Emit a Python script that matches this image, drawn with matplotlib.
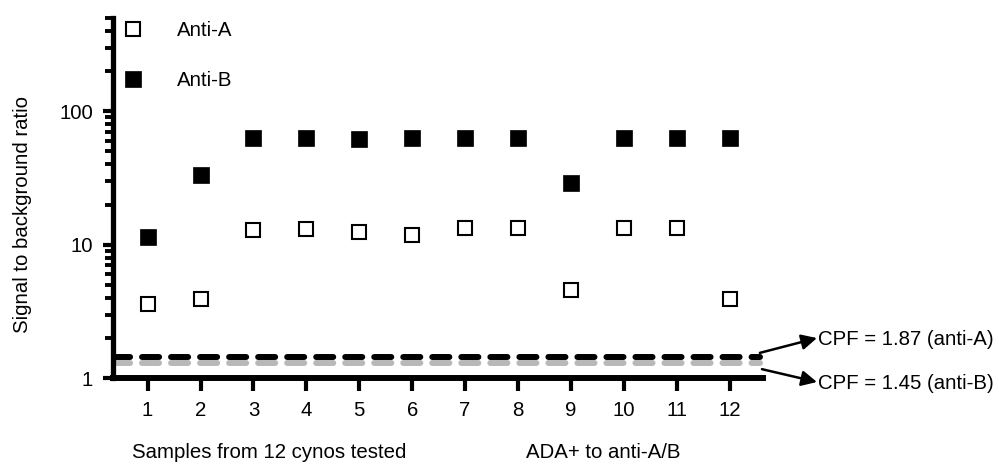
import numpy as np
import matplotlib
matplotlib.use("Agg")
import matplotlib.pyplot as plt

plt.rcParams['font.family'] = ['Liberation Sans', 'DejaVu Sans']

# data
samples = [1, 2, 3, 4, 5, 6, 7, 8, 9, 10, 11, 12]
anti_a = [3.6, 3.9, 12.9, 13.1, 12.5, 11.8, 13.3, 13.4, 4.6, 13.3, 13.3, 3.9]
anti_b = [11.5, 33.3, 63, 63, 62, 63, 63, 63, 29, 63, 63, 63]
cpf_black = 1.45
cpf_gray = 1.30
cpf_labels = ["CPF = 1.87 (anti-A)", "CPF = 1.45 (anti-B)"]

fs = 14.7
fig = plt.figure(figsize=(9.99, 4.65), dpi=100)
ax = fig.add_axes([0.1128, 0.1865, 0.651, 0.7748])

# cut-point lines
x_end = 12.57
dash = (0, (2.86, 2.0))
ax.plot([0.34, x_end], [cpf_gray, cpf_gray], color='#b8b8b8', lw=4.3,
        linestyle=dash, dash_capstyle='round', zorder=2)
ax.plot([0.34, x_end], [cpf_black, cpf_black], color='black', lw=4.3,
        linestyle=dash, dash_capstyle='round', zorder=3)

ax.plot(samples, anti_a, ls='none', marker='s', ms=10.5, mfc='white',
        mec='black', mew=1.5, label='Anti-A', zorder=4)
ax.plot(samples, anti_b, ls='none', marker='s', ms=11.2, mfc='black',
        mec='black', mew=0.5, label='Anti-B', zorder=4)

ax.set_yscale('log')
ax.set_ylim(1, 500)
ax.set_xlim(0.34, 12.63)
ax.set_xticks(samples)
ax.set_xticklabels([str(s) for s in samples])
ax.set_yticks([1, 10, 100])
ax.set_yticklabels(['1', '10', '100'])

for s in ['top', 'right']:
    ax.spines[s].set_visible(False)
ax.spines['left'].set_linewidth(3.8)
ax.spines['bottom'].set_linewidth(4.3)
ax.tick_params(axis='x', length=9.5, width=3.0, pad=7, labelsize=fs)
ax.tick_params(axis='y', which='major', length=7, width=3.0, pad=7, labelsize=fs)
ax.tick_params(axis='y', which='minor', length=5.5, width=2.8)

ax.legend(loc='upper left', bbox_to_anchor=(-0.007, 1.03), frameon=False,
          fontsize=fs, handlelength=1.0, handletextpad=1.65,
          labelspacing=1.5, borderaxespad=0.3, numpoints=1)

fig.text(0.023, 0.538, 'Signal to background ratio', rotation=90,
         ha='center', va='center', fontsize=fs)
fig.text(0.132, 0.026, 'Samples from 12 cynos tested', ha='left',
         va='center', fontsize=fs)
fig.text(0.527, 0.026, 'ADA+ to anti-A/B', ha='left', va='center', fontsize=fs)

# arrows to the cut-point labels
arrow = dict(arrowstyle='-|>', color='black', lw=1.8, mutation_scale=23,
             shrinkA=0, shrinkB=0)
ax.annotate('', xy=(0.8178, 0.273), xycoords='figure fraction',
            xytext=(x_end, 1.55), textcoords='data', arrowprops=arrow,
            annotation_clip=False)
ax.annotate('', xy=(0.8178, 0.1785), xycoords='figure fraction',
            xytext=(x_end + 0.04, 1.17), textcoords='data', arrowprops=arrow,
            annotation_clip=False)
fig.text(0.819, 0.269, cpf_labels[0], ha='left', va='center', fontsize=fs)
fig.text(0.819, 0.176, cpf_labels[1], ha='left', va='center', fontsize=fs)

fig.savefig('out.png', dpi=100)
